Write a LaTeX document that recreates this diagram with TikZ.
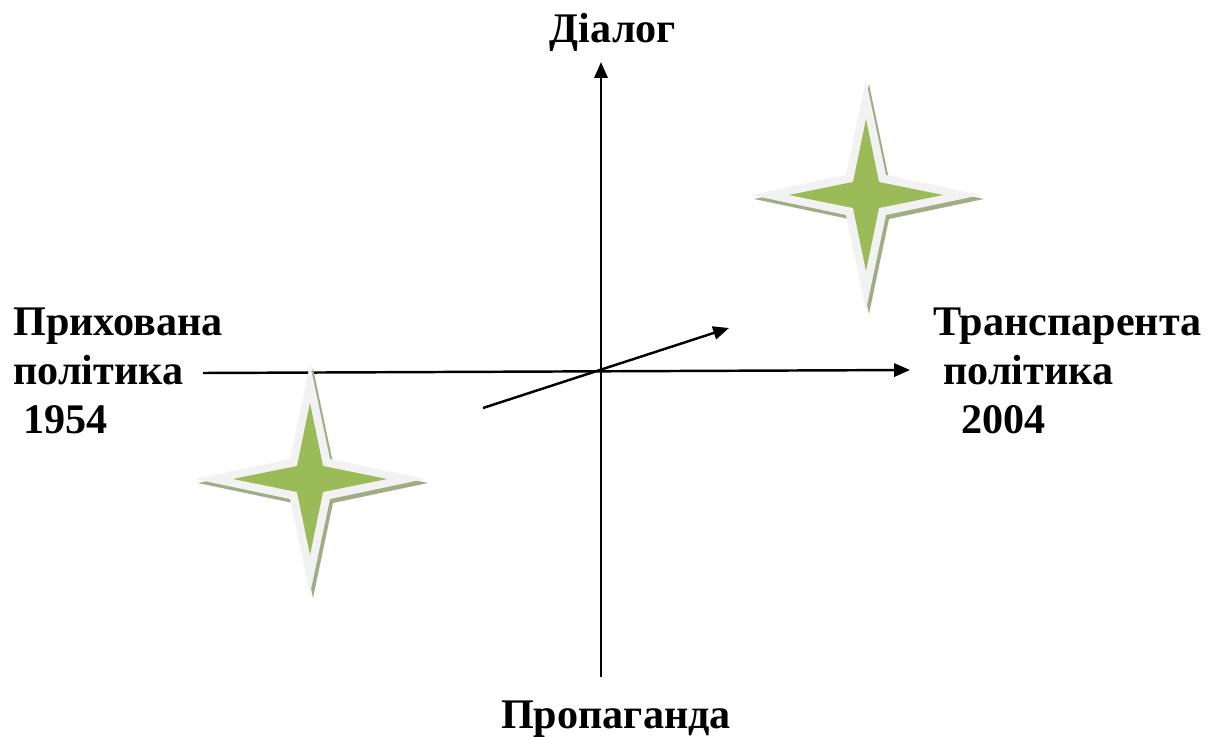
\documentclass[tikz,border=0pt]{standalone}
\usepackage{fontspec}
\setmainfont{Liberation Serif}
\usepackage{tikz}
\usetikzlibrary{arrows.meta}

\begin{document}
\begin{tikzpicture}[x=0.02cm,y=-0.02cm]
\definecolor{stargreen}{RGB}{155,187,89}
\definecolor{starrim}{RGB}{242,242,242}
\definecolor{starshade}{RGB}{160,172,132}
\tikzset{
  axis/.style={line width=1.4pt,-{Triangle[length=9pt,width=7.5pt]}},
  label/.style={font=\fontsize{24}{27.8}\selectfont\bfseries,inner sep=0pt,align=left},
}
\useasboundingbox (0,0) rectangle (1211,737);

% Axes
\coordinate (bottom) at (601,677);
\coordinate (top) at (601,62);
\coordinate (left) at (203,373);
\coordinate (right) at (910,370);
\coordinate (from) at (483,408);
\coordinate (to) at (729,328);
\draw[axis] (bottom) -- (top);
\draw[axis] (left) -- (right);
\draw[axis] (from) -- (to);

% Stars
\foreach \cx/\cy in {310/479, 866/195} {
  \begin{scope}[shift={(\cx,\cy)}]
    \fill[starshade] (3,-111) -- (23,-16) -- (118,4) -- (23,24) -- (3,119) -- (-17,24) -- (-112,4) -- (-17,-16) -- cycle;
    \fill[starrim] (0,-115) -- (20,-20) -- (115,0) -- (20,20) -- (0,115) -- (-20,20) -- (-115,0) -- (-20,-20) -- cycle;
    \fill[stargreen] (0,-76) -- (13,-13) -- (77,0) -- (13,13) -- (0,76) -- (-13,13) -- (-77,0) -- (-13,-13) -- cycle;
  \end{scope}
}

% Labels
\node[label,anchor=base] (dialog) at (613,42) {Діалог};
\node[label,anchor=base] (propaganda) at (616,728) {Пропаганда};
\node[label,anchor=base west] (hidden) at (13,433) {Прихована\\політика\\\hspace{5.7pt}1954};
\node[label,anchor=base west] (open) at (933,433) {Транспарента\\\hspace{5.7pt}політика\\\hspace{16pt}2004};

\end{tikzpicture}
\end{document}
